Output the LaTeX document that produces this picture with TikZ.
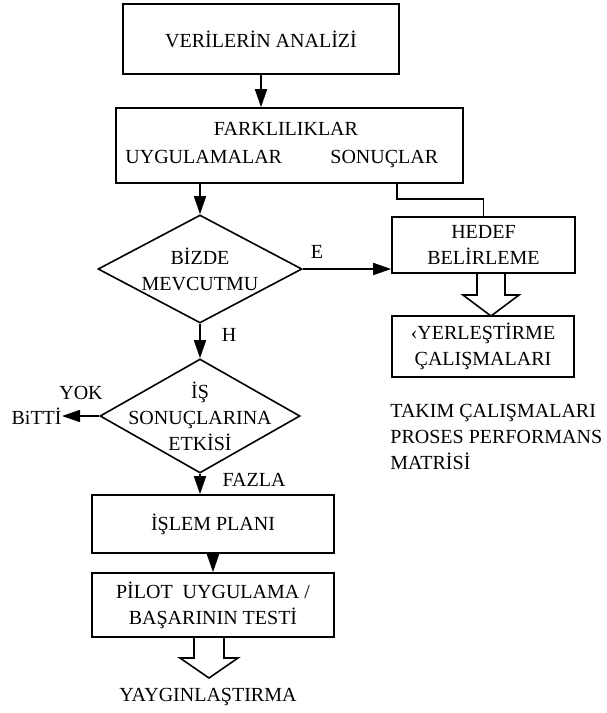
\documentclass[tikz,border=0pt]{standalone}
\usepackage{fontspec}
\setmainfont{Liberation Serif}
\usetikzlibrary{arrows.meta, shapes.geometric}

\begin{document}
\begin{tikzpicture}[x=0.5pt, y=-0.5pt, font=\fontsize{10}{13}\selectfont]
 % --- stiller ---
 \tikzset{
    kutu/.style={
        rectangle,
        draw,
        line width=0.8pt,
        inner sep=0pt,
        align=center
    },
    karar/.style={
        diamond,
        draw,
        line width=0.8pt,
        inner sep=0pt
    },
    yazi/.style={
        inner sep=0pt,
        align=center
    },
    ok/.style={
        line width=0.8pt,
        -{Triangle[length=9pt, width=6pt]}
    },
    bosok/.style={
        draw,
        line width=0.8pt
    }
 }
 \useasboundingbox (0,0) rectangle (606,713);

 % --- kutular ---
 \node[kutu, minimum width=138pt, minimum height=35pt] (analiz) at (261,39) {VERİLERİN ANALİZİ};
 \node[kutu, minimum width=173.5pt, minimum height=37.5pt] (fark) at (289.5,145.5) {};
 \node[yazi, anchor=base] (farkbaslik) at (286,135) {FARKLILIKLAR};
 \node[yazi, anchor=base west] (uygulama) at (125,163) {UYGULAMALAR};
 \node[yazi, anchor=base west] (sonuc) at (330,163) {SONUÇLAR};

 % karar: bizde mevcut mu
 \node[karar, minimum width=102pt, minimum height=54pt] (mevcut) at (200,269) {};
 \node[yazi] (mevcutyazi) at (mevcut) {BİZDE\\MEVCUTMU};

 % sag kol
 \node[kutu, minimum width=91.5pt, minimum height=28pt] (hedef) at (483.5,245) {HEDEF\\BELİRLEME};
 \node[kutu, minimum width=91pt, minimum height=30.5pt] (iyilestirme) at (483,346.5) {‹YERLEŞTİRME\\ÇALIŞMALARI};
 \node[yazi, align=left, anchor=north west] (takim) at (390,404) {TAKIM ÇALIŞMALARI\\PROSES PERFORMANS\\MATRİSİ};

 % karar: is sonuclarina etkisi
 \node[karar, minimum width=100pt, minimum height=57pt] (etki) at (200,416) {};
 \node[yazi] (etkiyazi) at (etki) {İŞ\\SONUÇLARINA\\ETKİSİ};
 \node[yazi, anchor=east] (bitti) at (62,416) {BiTTİ};

 % alt kol
 \node[kutu, minimum width=121pt, minimum height=29pt] (islem) at (213,524) {İŞLEM PLANI};
 \node[kutu, minimum width=121pt, minimum height=32pt] (pilot) at (213,605) {PİLOT~~UYGULAMA /\\BAŞARININ TESTİ};
 \node[yazi] (yaygin) at (208,697) {YAYGINLAŞTIRMA};

 % etiketler
 \node[yazi] (evet) at (317,252) {E};
 \node[yazi] (hayir) at (229,335) {H};
 \node[yazi] (yok) at (81,393) {YOK};
 \node[yazi] (fazla) at (254,480) {FAZLA};

 % --- oklar ---
 \draw[ok] (analiz.south) -- (analiz.south |- fark.north);
 \draw[ok] (mevcut.north |- fark.south) -- (mevcut.north);
 \coordinate (sonucalt) at (397,183);
 \draw[line width=0.8pt] (sonucalt) -- ++(0,16) -| (hedef.north);
 \draw[ok] (mevcut.east) -- (mevcut.east -| hedef.west);
 \draw[ok] (mevcut.south) -- (etki.north);
 \draw[ok] (etki.west) -- (etki.west -| bitti.east);
 \draw[ok] (etki.south) -- (etki.south |- islem.north);
 \draw[ok] (islem.south) -- (pilot.north);

 % bos oklar
 \coordinate (ok1) at (491,273);
 \draw[bosok] (ok1) ++(-14,0) -- ++(0,22) -- ++(-14,0) -- ++(28,21) -- ++(28,-21) -- ++(-14,0) -- ++(0,-22);
 \coordinate (ok2) at (209,637);
 \draw[bosok] (ok2) ++(-15,0) -- ++(0,21) -- ++(-14,0) -- ++(29,20) -- ++(29,-20) -- ++(-14,0) -- ++(0,-21);
\end{tikzpicture}
\end{document}
